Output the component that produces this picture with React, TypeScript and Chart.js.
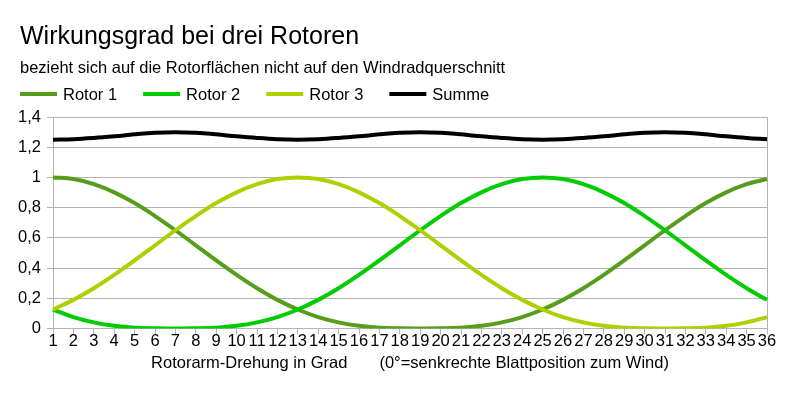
import { useEffect, useRef } from "react";
import { Chart, registerables } from "chart.js";

Chart.register(...registerables);

const categories = [
  "1", "2", "3", "4", "5", "6", "7", "8", "9", "10", "11", "12",
  "13", "14", "15", "16", "17", "18", "19", "20", "21", "22", "23", "24",
  "25", "26", "27", "28", "29", "30", "31", "32", "33", "34", "35", "36",
];

const rotor1 = [
  1.0, 0.989, 0.955, 0.901, 0.83, 0.744, 0.65, 0.55, 0.45, 0.354, 0.266, 0.189,
  0.125, 0.075, 0.04, 0.017, 0.005, 0.001, 0.0, 0.001, 0.005, 0.017, 0.04, 0.075,
  0.125, 0.189, 0.266, 0.354, 0.45, 0.55, 0.65, 0.744, 0.83, 0.901, 0.955, 0.989,
];

const rotor2 = [
  0.125, 0.075, 0.04, 0.017, 0.005, 0.001, 0.0, 0.001, 0.005, 0.017, 0.04, 0.075,
  0.125, 0.189, 0.266, 0.354, 0.45, 0.55, 0.65, 0.744, 0.83, 0.901, 0.955, 0.989,
  1.0, 0.989, 0.955, 0.901, 0.83, 0.744, 0.65, 0.55, 0.45, 0.354, 0.266, 0.189,
];

const rotor3 = [
  0.125, 0.189, 0.266, 0.354, 0.45, 0.55, 0.65, 0.744, 0.83, 0.901, 0.955, 0.989,
  1.0, 0.989, 0.955, 0.901, 0.83, 0.744, 0.65, 0.55, 0.45, 0.354, 0.266, 0.189,
  0.125, 0.075, 0.04, 0.017, 0.005, 0.001, 0.0, 0.001, 0.005, 0.017, 0.04, 0.075,
];

const summe = [
  1.25, 1.253, 1.261, 1.272, 1.285, 1.295, 1.299, 1.295, 1.285, 1.272, 1.261, 1.253,
  1.25, 1.253, 1.261, 1.272, 1.285, 1.295, 1.299, 1.295, 1.285, 1.272, 1.261, 1.253,
  1.25, 1.253, 1.261, 1.272, 1.285, 1.295, 1.299, 1.295, 1.285, 1.272, 1.261, 1.253,
];

const yTickLabels = ["0", "0,2", "0,4", "0,6", "0,8", "1", "1,2", "1,4"];

const seriesNames = ["Rotor 1", "Rotor 2", "Rotor 3", "Summe"];
const seriesColors = ["#579d1c", "#00cc00", "#aecf00", "#000000"];

const FONT = "'Liberation Sans', Arial, sans-serif";
const GRID = "#b3b3b3";
const TXT = 16.5;

const legendPlugin = {
  id: "customLegend",
  afterLayout(chart: any) {
    // shift title and subtitle to start at x = 20
    chart.boxes.forEach((b: any) => {
      if (b.position === "top" && b.options && b.options.text !== undefined) {
        b.left = 20;
      }
    });
  },
  afterDraw(chart: any) {
    const ctx = chart.ctx;
    ctx.save();
    ctx.font = `${TXT}px ${FONT}`;
    ctx.textBaseline = "alphabetic";
    ctx.textAlign = "left";
    let x = 20;
    const yLine = 94;
    const yText = 100;
    chart.data.datasets.forEach((ds: any) => {
      ctx.strokeStyle = ds.borderColor;
      ctx.lineWidth = 4;
      ctx.beginPath();
      ctx.moveTo(x, yLine);
      ctx.lineTo(x + 37, yLine);
      ctx.stroke();
      ctx.fillStyle = "#000";
      const tx = x + 43;
      ctx.fillText(ds.label, tx, yText);
      const w = ctx.measureText(ds.label).width;
      x = tx + w + 26;
    });
    ctx.restore();
  },
};

export default function App() {
  const canvasRef = useRef<HTMLCanvasElement | null>(null);

  useEffect(() => {
    if (!canvasRef.current) return;
    Chart.defaults.font.family = FONT;
    Chart.defaults.color = "#000";
    const values = [rotor1, rotor2, rotor3, summe];
    const orders = [3, 2, 1, 0];
    const chart = new Chart(canvasRef.current, {
      type: "line",
      data: {
        labels: categories,
        datasets: values.map((v, i) => ({
          label: seriesNames[i],
          data: v,
          borderColor: seriesColors[i],
          backgroundColor: seriesColors[i],
          borderWidth: 4,
          pointRadius: 0,
          tension: 0.4,
          fill: false,
          order: orders[i],
        })),
      },
      options: {
        animation: false,
        responsive: true,
        maintainAspectRatio: false,
        layout: { padding: { left: 6, right: 32, top: 0, bottom: 23 } },
        plugins: {
          legend: { display: false },
          tooltip: { enabled: false },
          title: {
            display: true,
            text: "Wirkungsgrad bei drei Rotoren",
            align: "start",
            color: "#000",
            font: { size: 25, weight: "normal", family: FONT },
            padding: { top: 22, bottom: 0 },
          },
          subtitle: {
            display: true,
            text: "bezieht sich auf die Rotorflächen nicht auf den Windradquerschnitt",
            align: "start",
            color: "#000",
            font: { size: TXT, weight: "normal", family: FONT },
            padding: { top: 6.4, bottom: 38.8 },
          },
        },
        scales: {
          x: {
            offset: false,
            grid: {
              display: true,
              drawOnChartArea: true,
              color: (c: any) => (c.index === categories.length - 1 ? GRID : "rgba(0,0,0,0)"),
              tickColor: GRID,
              tickLength: 6,
            },
            border: { display: true, color: GRID },
            ticks: {
              autoSkip: false,
              maxRotation: 0,
              minRotation: 0,
              padding: -3,
              color: "#000",
              font: { size: TXT, family: FONT },
            },
            title: {
              display: true,
              text: "Rotorarm-Drehung in Grad       (0°=senkrechte Blattposition zum Wind)",
              color: "#000",
              font: { size: TXT, family: FONT },
              padding: { top: 5, bottom: 0 },
            },
          },
          y: {
            min: 0,
            max: 1.4,
            afterFit: (scale: any) => {
              scale.width = 47;
            },
            grid: { color: GRID, tickColor: GRID, tickLength: 6 },
            border: { display: true, color: GRID },
            ticks: {
              stepSize: 0.2,
              padding: 6,
              color: "#000",
              font: { size: TXT, family: FONT },
              callback: (value: any) => yTickLabels[Math.round(Number(value) / 0.2)] ?? "",
            },
          },
        },
      },
      plugins: [legendPlugin],
    });
    return () => chart.destroy();
  }, []);

  return (
    <div style={{ position: "fixed", left: 0, top: 0, width: 799, height: 396, background: "#fff" }}>
      <canvas ref={canvasRef} />
    </div>
  );
}
